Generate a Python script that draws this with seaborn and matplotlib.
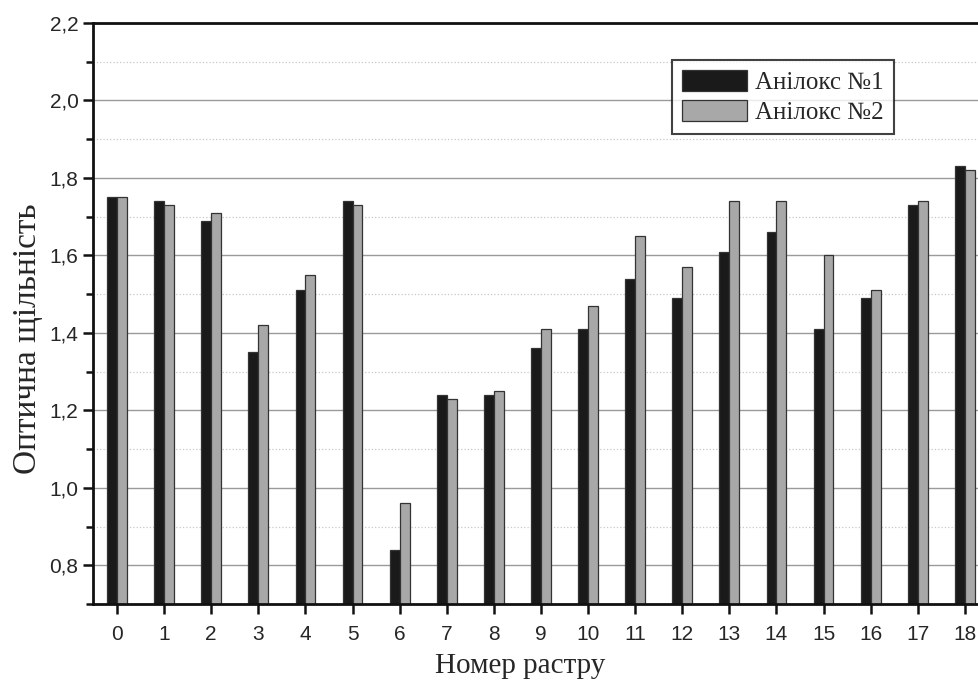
import matplotlib
matplotlib.use("Agg")
import matplotlib.pyplot as plt
from matplotlib.ticker import MultipleLocator, FuncFormatter
import pandas as pd
import seaborn as sns

# raster number vs. optical density for two anilox rolls
raster = list(range(19))
anilox_1 = [1.75, 1.74, 1.69, 1.35, 1.51, 1.74, 0.84, 1.24, 1.24, 1.36,
            1.41, 1.54, 1.49, 1.61, 1.66, 1.41, 1.49, 1.73, 1.83]
anilox_2 = [1.75, 1.73, 1.71, 1.42, 1.55, 1.73, 0.96, 1.23, 1.25, 1.41,
            1.47, 1.65, 1.57, 1.74, 1.74, 1.60, 1.51, 1.74, 1.82]
series_names = ["Анілокс №1", "Анілокс №2"]

df = pd.DataFrame({
    "raster": raster * 2,
    "density": anilox_1 + anilox_2,
    "series": [series_names[0]] * len(raster) + [series_names[1]] * len(raster),
})

sns.set_style("white")
plt.rcParams["font.family"] = ["Liberation Sans", "DejaVu Sans"]

fig = plt.figure(figsize=(9.79, 6.83), dpi=100)
ax = fig.add_axes([0.095, 0.1157, 0.905, 0.8506])

ax.set_axisbelow(True)
ax.yaxis.set_major_locator(MultipleLocator(0.2))
ax.yaxis.set_minor_locator(MultipleLocator(0.1))
ax.grid(which="major", axis="y", color="#9a9a9a", linewidth=1.0, linestyle="-")
ax.grid(which="minor", axis="y", color="#c8c8c8", linewidth=0.9, linestyle=":")

sns.barplot(data=df, x="raster", y="density", hue="series",
            palette=["#1a1a1a", "#a8a8a8"], width=0.42, dodge=True,
            edgecolor="#333333", linewidth=0.9, saturation=1, ax=ax,
            legend=True)

ax.set_ylim(0.7, 2.2)
ax.set_xlim(-0.51, 18.3)
ax.yaxis.set_major_formatter(FuncFormatter(lambda v, p: f"{v:.1f}".replace(".", ",")))

for side in ["left", "bottom", "top"]:
    ax.spines[side].set_linewidth(2)
    ax.spines[side].set_color("#111111")
ax.spines["right"].set_visible(False)

ax.tick_params(axis="both", which="major", direction="out", length=7, width=1.8,
               labelsize=15, color="#111111", left=True, bottom=True)
ax.tick_params(axis="x", which="major", pad=8)
ax.tick_params(axis="y", which="minor", direction="out", length=5, width=1.8,
               color="#111111", left=True)

ax.set_xlabel("Номер растру", fontsize=21, family="Liberation Serif")
ax.set_ylabel("Оптична щільність", fontsize=24, family="Liberation Serif")
ax.xaxis.set_label_coords(0.482, -0.085)
ax.yaxis.set_label_coords(-0.057, 0.456)

leg = ax.legend(loc="upper left", bbox_to_anchor=(0.686, 0.912),
                bbox_transform=fig.transFigure, frameon=True, fancybox=False,
                prop={"family": "Liberation Serif", "size": 18},
                handlelength=2.6, handleheight=0.9, handletextpad=0.35,
                borderpad=0.4, labelspacing=0.25, borderaxespad=0)
leg.get_frame().set_edgecolor("#111111")
leg.get_frame().set_linewidth(1.5)

fig.savefig("out.png", dpi=100)
